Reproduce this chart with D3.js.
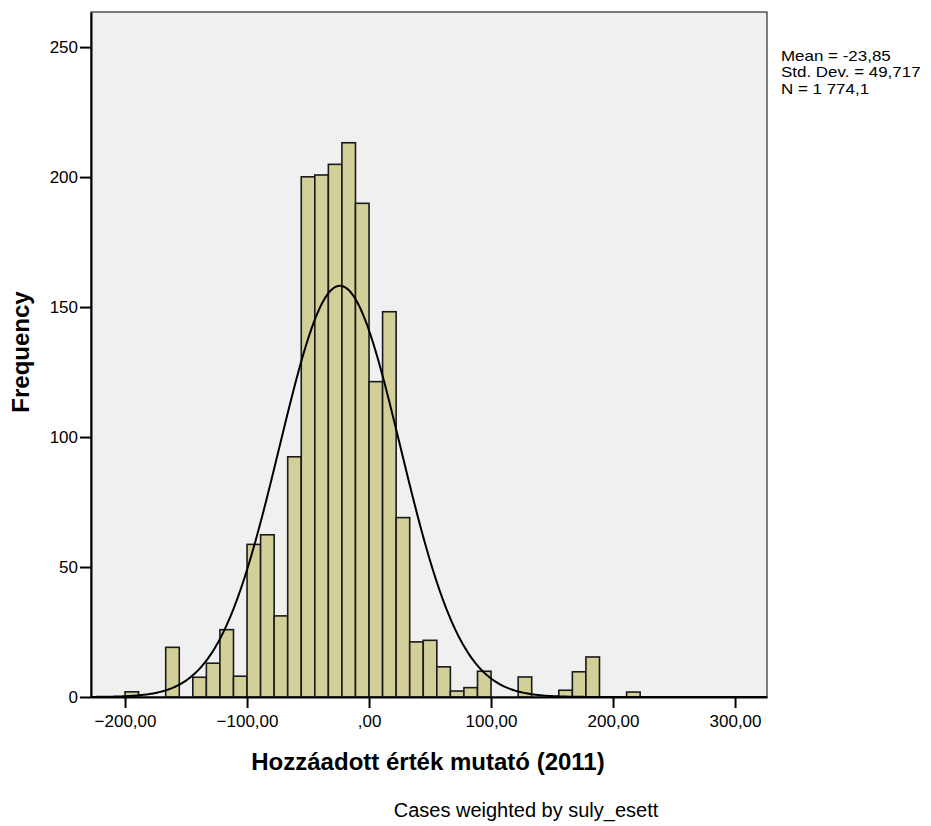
<!DOCTYPE html>
<html>
<head>
<meta charset="utf-8">
<script src="https://cdn.jsdelivr.net/npm/d3@7"></script>
<style>
  body { margin: 0; background: #fff; }
  text { font-family: "Liberation Sans", Arial, sans-serif; fill: #000; }
</style>
</head>
<body>
<div id="chart"></div>
<script>
// histogram data: bin edges start at -200, width 100/9
var binStart = -200;
var binWidth = 100 / 9;
var counts = [2.0, 0, 0, 19.1, 0, 7.6, 13.0, 25.9, 8.0, 58.7,
              62.4, 31.2, 92.4, 200.1, 200.8, 204.9, 213.2, 189.9, 121.3, 148.2,
              69.0, 21.2, 21.8, 11.6, 2.3, 3.6, 9.9, 0, 0, 7.7,
              0, 0, 2.6, 9.7, 15.4, 0, 0, 1.9];
var xTicks = [-200, -100, 0, 100, 200, 300];
var yTicks = [0, 50, 100, 150, 200, 250];
var statLines = ["Mean = -23,85", "Std. Dev. = 49,717", "N = 1 774,1"];

// normal curve parameters (shown in the legend)
var mean = -23.85, sd = 49.717, n = 1774.1;

// set the dimensions and margins of the graph
var margin = {top: 12, right: 164, bottom: 129, left: 91},
    width = 931 - margin.left - margin.right,
    height = 826 - margin.top - margin.bottom;

var x = d3.scaleLinear().domain([-227.9, 326.2]).range([0, width]);
var y = d3.scaleLinear().domain([0, 263.5]).range([height, 0]);

var svg = d3.select("#chart").append("svg")
    .attr("width", 931)
    .attr("height", 826)
    .append("g")
    .attr("transform", "translate(" + margin.left + "," + margin.top + ")");

// plot background
svg.append("rect")
    .attr("width", width)
    .attr("height", height)
    .style("fill", "#f0f0f0")
    .style("stroke", "#000")
    .style("stroke-width", 1);

var bins = counts.map(function(c, i) {
    return {x0: binStart + i * binWidth, x1: binStart + (i + 1) * binWidth, count: c};
}).filter(function(d) { return d.count > 0; });

svg.selectAll(".bar")
    .data(bins)
    .enter().append("rect")
    .attr("class", "bar")
    .attr("x", function(d) { return x(d.x0); })
    .attr("width", function(d) { return x(d.x1) - x(d.x0); })
    .attr("y", function(d) { return y(d.count); })
    .attr("height", function(d) { return y(0) - y(d.count); })
    .style("fill", "#d3cf98")
    .style("stroke", "#1a1a1a")
    .style("stroke-width", 1.6);

// normal curve
var curveX = d3.range(-228, 326.5, 1);
var peak = n * binWidth / (sd * Math.sqrt(2 * Math.PI));
var line = d3.line()
    .x(function(v) { return x(v); })
    .y(function(v) { return y(peak * Math.exp(-0.5 * Math.pow((v - mean) / sd, 2))); });
svg.append("path")
    .datum(curveX)
    .attr("d", line)
    .style("fill", "none")
    .style("stroke", "#000")
    .style("stroke-width", 2);

// axes
var xAxis = svg.append("g")
    .attr("transform", "translate(0," + height + ")")
    .call(d3.axisBottom(x).tickValues(xTicks).tickSize(11).tickSizeOuter(0)
        .tickFormat(function(d) { return d === 0 ? ",00" : d3.format("d")(d) + ",00"; }));
xAxis.select(".domain").style("stroke-width", 2);
xAxis.selectAll(".tick line").style("stroke-width", 2);
xAxis.selectAll("text").style("font-size", "17px").attr("y", 30).attr("dy", 0);

var yAxis = svg.append("g")
    .call(d3.axisLeft(y).tickValues(yTicks).tickSize(11).tickSizeOuter(0));
yAxis.select(".domain").style("stroke-width", 2);
yAxis.selectAll(".tick line").style("stroke-width", 2);
yAxis.selectAll("text").style("font-size", "17px").attr("x", -13);

// Y-Axis Label
svg.append("text")
    .attr("transform", "rotate(-90)")
    .attr("x", -340)
    .attr("y", -margin.left + 29)
    .style("text-anchor", "middle")
    .style("font-size", "24px")
    .style("font-weight", "bold")
    .text("Frequency");

// X-Axis Label
svg.append("text")
    .attr("x", 337)
    .attr("y", height + 73)
    .style("text-anchor", "middle")
    .style("font-size", "24px")
    .style("font-weight", "bold")
    .text("Hozzáadott érték mutató (2011)");

svg.append("text")
    .attr("x", 435)
    .attr("y", height + 120)
    .style("text-anchor", "middle")
    .style("font-size", "20px")
    .text("Cases weighted by suly_esett");

// stats legend - tight lines, glyphs slightly widened like the original
svg.append("g")
    .attr("transform", "translate(" + (width + 14) + ",49)")
    .selectAll("text")
    .data(statLines)
    .enter().append("text")
    .attr("y", function(d, i) { return i * 16.3; })
    .style("font-size", "15px")
    .text(function(d) { return d; })
    .each(function() {
        d3.select(this)
            .attr("textLength", this.getComputedTextLength() * 1.13)
            .attr("lengthAdjust", "spacingAndGlyphs");
    });
</script>
</body>
</html>
